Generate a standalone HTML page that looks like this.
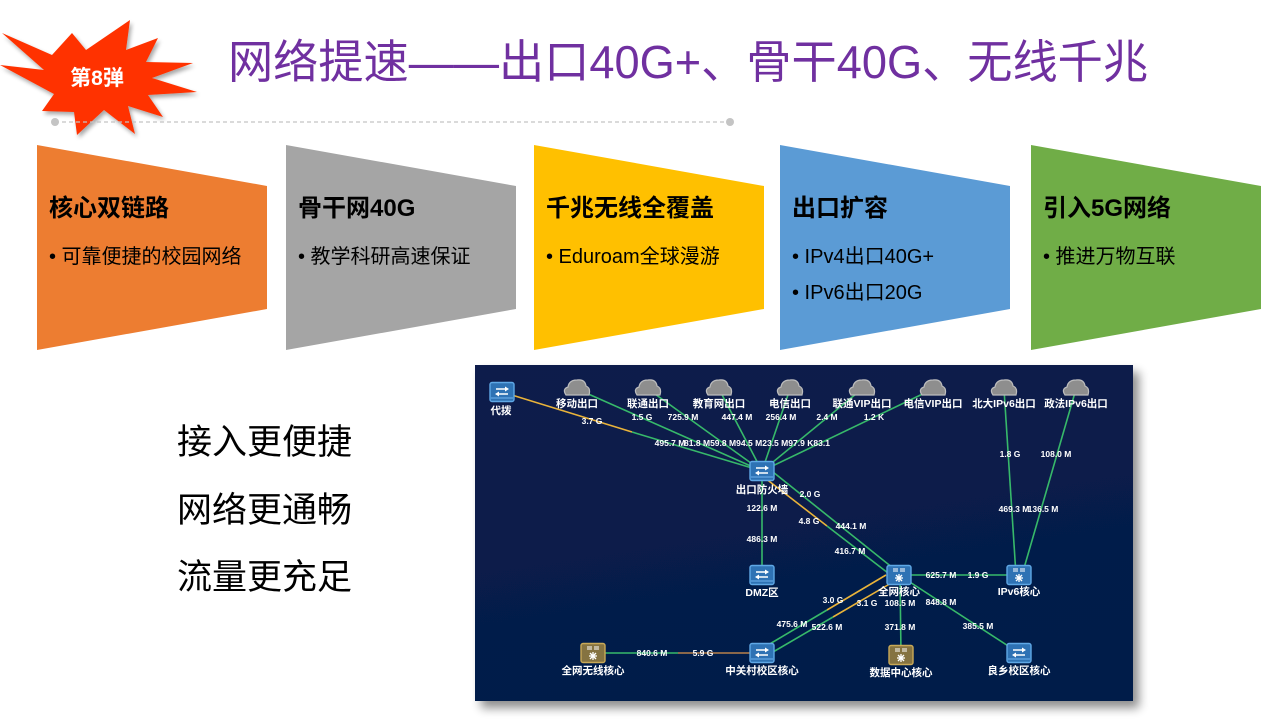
<!DOCTYPE html>
<html><head><meta charset="utf-8">
<style>
html,body{margin:0;padding:0;background:#fff;}
body{width:1280px;height:720px;overflow:hidden;position:relative;font-family:"Liberation Sans","Noto Sans CJK SC",sans-serif;}
svg{position:absolute;left:0;top:0;}
.nl{font-family:"Liberation Sans","Noto Sans CJK SC",sans-serif;font-weight:bold;font-size:10.5px;fill:#fff;text-anchor:middle;dominant-baseline:central;}
.el{font-family:"Liberation Sans","Noto Sans CJK SC",sans-serif;font-weight:bold;font-size:8.5px;fill:#fff;text-anchor:middle;dominant-baseline:central;}
</style></head>
<body>
<svg width="1280" height="720" viewBox="0 0 1280 720" xmlns="http://www.w3.org/2000/svg">
<defs>
<linearGradient id="bg" x1="0" y1="0" x2="0.3" y2="1">
<stop offset="0" stop-color="#0b1a4b"/><stop offset="1" stop-color="#041f4a"/>
</linearGradient>
<filter id="sh" x="-10%" y="-10%" width="130%" height="130%">
<feGaussianBlur in="SourceAlpha" stdDeviation="5"/><feOffset dx="6" dy="7"/>
<feComponentTransfer><feFuncA type="linear" slope="0.45"/></feComponentTransfer>
<feMerge><feMergeNode/><feMergeNode in="SourceGraphic"/></feMerge>
</filter>
<filter id="sh2" x="-10%" y="-10%" width="130%" height="130%">
<feGaussianBlur in="SourceAlpha" stdDeviation="2"/><feOffset dx="2" dy="3"/>
<feComponentTransfer><feFuncA type="linear" slope="0.35"/></feComponentTransfer>
<feMerge><feMergeNode/><feMergeNode in="SourceGraphic"/></feMerge>
</filter>
<g id="sw">
<rect x="-12" y="-9.5" width="24" height="19" rx="2" fill="#2e72b4" stroke="#5fa8e6" stroke-width="1.4"/>
<line x1="-11" y1="6" x2="11" y2="6" stroke="#6fb3ee" stroke-width="1"/>
<line x1="-6" y1="-3" x2="5" y2="-3" stroke="#fff" stroke-width="1.5"/>
<polygon points="7,-3 3,-5.5 3,-0.5" fill="#fff"/>
<line x1="-5" y1="2" x2="6" y2="2" stroke="#fff" stroke-width="1.5"/>
<polygon points="-7,2 -3,-0.5 -3,4.5" fill="#fff"/>
</g>
<g id="core">
<line x1="-6" y1="-6" x2="-1" y2="-6" stroke="#fff" stroke-width="1"/>
<line x1="1" y1="-6" x2="6" y2="-6" stroke="#fff" stroke-width="1"/>
<line x1="-6" y1="-4" x2="-1" y2="-4" stroke="#fff" stroke-width="1"/>
<line x1="1" y1="-4" x2="6" y2="-4" stroke="#fff" stroke-width="1"/>
<g stroke="#fff" stroke-width="1.3">
<line x1="0" y1="-1" x2="0" y2="7"/><line x1="-4" y1="3" x2="4" y2="3"/>
<line x1="-3" y1="0" x2="3" y2="6"/><line x1="3" y1="0" x2="-3" y2="6"/>
</g>
<circle cx="0" cy="3" r="1.6" fill="#fff"/>
</g>
<g id="coreB">
<rect x="-12" y="-9.5" width="24" height="19" rx="2" fill="#2e72b4" stroke="#5fa8e6" stroke-width="1.4"/>
<use href="#core"/>
</g>
<g id="coreG">
<rect x="-12" y="-9.5" width="24" height="19" rx="2" fill="#857341" stroke="#c9a957" stroke-width="1.4"/>
<use href="#core"/>
</g>
<path id="cloud" d="M-11,7 Q-15,1 -9,-1 Q-8,-8 0,-8 Q8,-9 9,-2 Q14,0 12,7 Z" fill="#8e8e8e" stroke="#bdbdbd" stroke-width="1.2"/>
</defs>

<!-- starburst -->
<polygon filter="url(#sh2)" fill="#ff3300" points="2,33 52,55 72,33 86,50 130,20 126,50 158,38 146,62 193,63 152,78 197,92 148,95 163,117 128,106 135,134 104,110 77,135 74,112 42,111 54,94 0,65 44,70"/>
<text x="97" y="85" text-anchor="middle" font-family="Liberation Sans,Noto Sans CJK SC,sans-serif" font-weight="bold" font-size="21" fill="#fff">第8弹</text>

<!-- title -->
<text x="228" y="78" textLength="920" lengthAdjust="spacingAndGlyphs" font-family="Liberation Sans,Noto Sans CJK SC,sans-serif" font-size="46" fill="#7030a0">网络提速——出口40G+、骨干40G、无线千兆</text>

<!-- dotted line -->
<line x1="55" y1="122" x2="730" y2="122" stroke="#c4c4c4" stroke-width="1.3" stroke-dasharray="4 3"/>
<circle cx="55" cy="122" r="4" fill="#c4c4c4"/>
<circle cx="730" cy="122" r="4" fill="#c4c4c4"/>

<!-- banners -->
<g font-family="Liberation Sans,Noto Sans CJK SC,sans-serif" fill="#000">
<polygon points="37,145 267,186 267,309 37,350" fill="#ed7d31"/>
<text x="49" y="216" font-size="24" font-weight="bold">核心双链路</text>
<text x="49" y="263" font-size="20">• 可靠便捷的校园网络</text>

<polygon points="286,145 516,186 516,309 286,350" fill="#a5a5a5"/>
<text x="298" y="216" font-size="24" font-weight="bold">骨干网40G</text>
<text x="298" y="263" font-size="20">• 教学科研高速保证</text>

<polygon points="534,145 764,186 764,309 534,350" fill="#ffc000"/>
<text x="546" y="216" font-size="24" font-weight="bold">千兆无线全覆盖</text>
<text x="546" y="263" font-size="20">• Eduroam全球漫游</text>

<polygon points="780,145 1010,186 1010,309 780,350" fill="#5b9bd5"/>
<text x="792" y="216" font-size="24" font-weight="bold">出口扩容</text>
<text x="792" y="263" font-size="20">• IPv4出口40G+</text>
<text x="792" y="299" font-size="20">• IPv6出口20G</text>

<polygon points="1031,145 1261,186 1261,309 1031,350" fill="#70ad47"/>
<text x="1043" y="216" font-size="24" font-weight="bold">引入5G网络</text>
<text x="1043" y="263" font-size="20">• 推进万物互联</text>
</g>

<!-- left text -->
<g font-family="Liberation Sans,Noto Sans CJK SC,sans-serif" font-size="35" fill="#000">
<text x="177" y="454">接入更便捷</text>
<text x="177" y="522">网络更通畅</text>
<text x="177" y="589">流量更充足</text>
</g>

<!-- network panel -->
<rect x="475" y="365" width="658" height="336" fill="url(#bg)" filter="url(#sh)"/>

<g stroke-width="1.6" fill="none">
<line x1="502" y1="392" x2="632" y2="432" stroke="#e9b33a"/>
<line x1="632" y1="432" x2="762" y2="471" stroke="#37b96a"/>
<line x1="577" y1="389" x2="762" y2="471" stroke="#37b96a"/>
<line x1="648" y1="389" x2="762" y2="471" stroke="#37b96a"/>
<line x1="719" y1="389" x2="762" y2="471" stroke="#37b96a"/>
<line x1="790" y1="389" x2="762" y2="471" stroke="#37b96a"/>
<line x1="862" y1="389" x2="762" y2="471" stroke="#37b96a"/>
<line x1="933" y1="389" x2="762" y2="471" stroke="#37b96a"/>
<line x1="762" y1="471" x2="762" y2="575" stroke="#37b96a"/>
<line x1="773" y1="472" x2="893" y2="568" stroke="#37b96a"/>
<line x1="765" y1="478" x2="827" y2="526" stroke="#e9b33a"/>
<line x1="827" y1="526" x2="888" y2="573" stroke="#37b96a"/>
<line x1="899" y1="575" x2="1019" y2="575" stroke="#37b96a"/>
<line x1="1004" y1="389" x2="1016" y2="575" stroke="#37b96a"/>
<line x1="1076" y1="389" x2="1022" y2="575" stroke="#37b96a"/>
<line x1="900" y1="575" x2="901" y2="655" stroke="#37b96a"/>
<line x1="899" y1="575" x2="1019" y2="653" stroke="#37b96a"/>
<line x1="886" y1="575" x2="827" y2="610" stroke="#e9b33a"/>
<line x1="827" y1="610" x2="768" y2="645" stroke="#37b96a"/>
<line x1="893" y1="582" x2="833" y2="617" stroke="#e9b33a"/>
<line x1="833" y1="617" x2="773" y2="652" stroke="#37b96a"/>
<line x1="593" y1="653" x2="678" y2="653" stroke="#37b96a"/>
<line x1="678" y1="653" x2="762" y2="653" stroke="#b8804a"/>
</g>

<use href="#sw" x="502" y="392"/>
<use href="#cloud" x="577" y="388"/>
<use href="#cloud" x="648" y="388"/>
<use href="#cloud" x="719" y="388"/>
<use href="#cloud" x="790" y="388"/>
<use href="#cloud" x="862" y="388"/>
<use href="#cloud" x="933" y="388"/>
<use href="#cloud" x="1004" y="388"/>
<use href="#cloud" x="1076" y="388"/>
<use href="#sw" x="762" y="471"/>
<use href="#sw" x="762" y="575"/>
<use href="#coreB" x="899" y="575"/>
<use href="#coreB" x="1019" y="575"/>
<use href="#coreG" x="901" y="655"/>
<use href="#sw" x="1019" y="653"/>
<use href="#sw" x="762" y="653"/>
<use href="#coreG" x="593" y="653"/>

<text class="nl" x="501" y="411">代拨</text>
<text class="nl" x="577" y="404">移动出口</text>
<text class="nl" x="648" y="404">联通出口</text>
<text class="nl" x="719" y="404">教育网出口</text>
<text class="nl" x="790" y="404">电信出口</text>
<text class="nl" x="862" y="404">联通VIP出口</text>
<text class="nl" x="933" y="404">电信VIP出口</text>
<text class="nl" x="1004" y="404">北大IPv6出口</text>
<text class="nl" x="1076" y="404">政法IPv6出口</text>
<text class="nl" x="762" y="490">出口防火墙</text>
<text class="nl" x="762" y="593">DMZ区</text>
<text class="nl" x="899" y="592">全网核心</text>
<text class="nl" x="1019" y="592">IPv6核心</text>
<text class="nl" x="901" y="673">数据中心核心</text>
<text class="nl" x="1019" y="671">良乡校区核心</text>
<text class="nl" x="762" y="671">中关村校区核心</text>
<text class="nl" x="593" y="671">全网无线核心</text>

<text class="el" x="592" y="421">3.7 G</text>
<text class="el" x="670" y="443">495.7 M</text>
<text class="el" x="642" y="417">1.5 G</text>
<text class="el" x="683" y="417">725.9 M</text>
<text class="el" x="737" y="417">447.4 M</text>
<text class="el" x="781" y="417">256.4 M</text>
<text class="el" x="827" y="417">2.4 M</text>
<text class="el" x="874" y="417">1.2 K</text>
<text class="el" x="757" y="443" textLength="146" lengthAdjust="spacingAndGlyphs">81.8 M59.8 M94.5 M23.5 M97.9 K83.1</text>
<text class="el" x="762" y="508">122.6 M</text>
<text class="el" x="762" y="539">486.3 M</text>
<text class="el" x="810" y="494">2.0 G</text>
<text class="el" x="809" y="521">4.8 G</text>
<text class="el" x="851" y="526">444.1 M</text>
<text class="el" x="850" y="551">416.7 M</text>
<text class="el" x="941" y="575">625.7 M</text>
<text class="el" x="978" y="575">1.9 G</text>
<text class="el" x="1010" y="454">1.8 G</text>
<text class="el" x="1056" y="454">108.0 M</text>
<text class="el" x="1014" y="509">469.3 M</text>
<text class="el" x="1043" y="509">136.5 M</text>
<text class="el" x="833" y="600">3.0 G</text>
<text class="el" x="867" y="603">3.1 G</text>
<text class="el" x="900" y="603">108.5 M</text>
<text class="el" x="941" y="602">848.8 M</text>
<text class="el" x="900" y="627">371.8 M</text>
<text class="el" x="978" y="626">385.5 M</text>
<text class="el" x="792" y="624">475.6 M</text>
<text class="el" x="827" y="627">522.6 M</text>
<text class="el" x="652" y="653">840.6 M</text>
<text class="el" x="703" y="653">5.9 G</text>
</svg>
</body></html>
